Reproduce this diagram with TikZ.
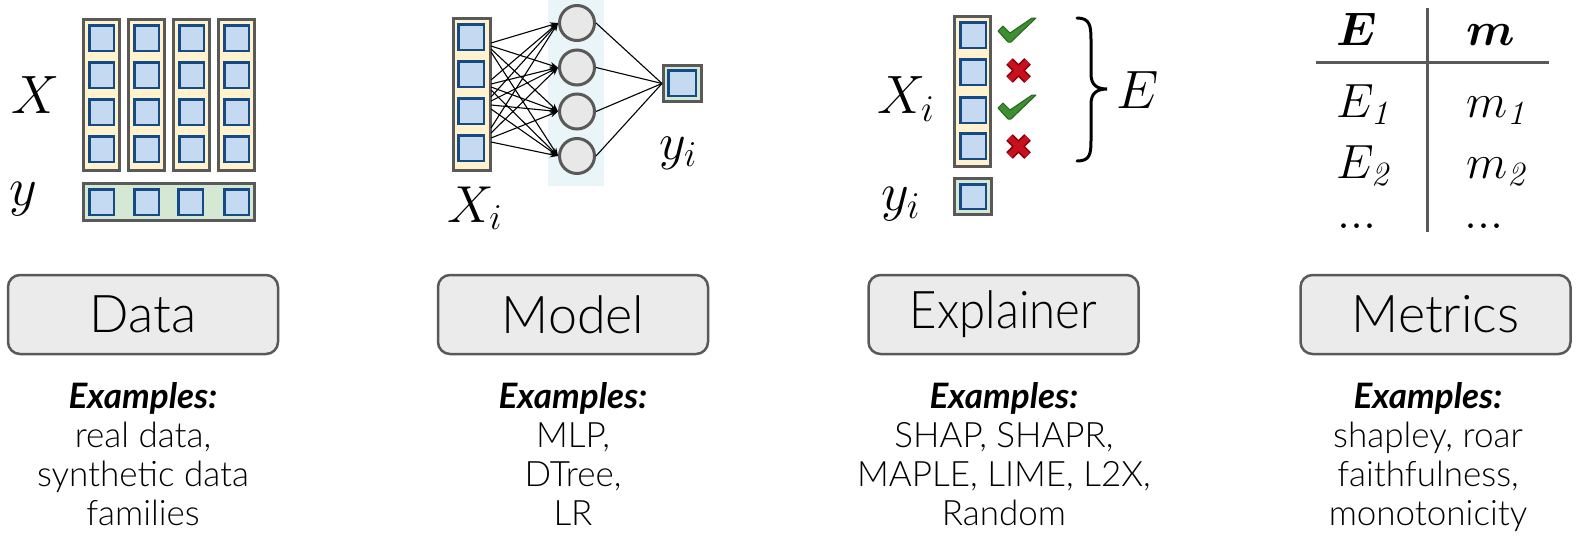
\RequirePackage{fix-cm}
\documentclass[tikz,border=0pt]{standalone}
\usepackage{graphicx}
\usepackage{amsmath}
\usepackage{fontspec}
\setmainfont{Lato}
\newfontfamily\latol{Lato Light}
\newfontfamily\lmit{Latin Modern Roman}
\usetikzlibrary{arrows.meta}
\definecolor{gr}{RGB}{89,89,89}
\definecolor{boxfill}{RGB}{235,235,235}
\definecolor{sqB}{RGB}{197,217,241}
\definecolor{sqD}{RGB}{20,75,135}
\definecolor{colY}{RGB}{255,242,204}
\definecolor{grn}{RGB}{213,232,212}
\definecolor{neur}{RGB}{232,232,232}
\definecolor{bandC}{RGB}{233,245,248}
\definecolor{checkG}{RGB}{62,142,50}
\definecolor{checkD}{RGB}{40,100,30}
\definecolor{crossR}{RGB}{200,16,30}
\definecolor{crossD}{RGB}{140,0,10}
\newcommand{\itsub}[1]{\text{\lmit\itshape\fontsize{34}{36}\selectfont #1}}
\newcommand{\exblock}[5]{%
 \node[exhead] (#1h) at (#2,408) {Examples:};
 \node[exline] (#1a) at (#2,447) {#3};
 \node[exline] (#1b) at (#2,486) {#4};
 \node[exline] (#1c) at (#2,525) {#5};}
\begin{document}
\begin{tikzpicture}[x=1pt,y=-1pt,
 colbox/.style={fill=colY,draw=gr,line width=3pt},
 sqr/.style={fill=sqB,draw=sqD,line width=2.5pt},
 ybar/.style={fill=grn,draw=gr,line width=3pt},
 neuron/.style={circle,fill=neur,draw=gr,line width=3pt,minimum size=35pt,inner sep=0pt},
 netarrow/.style={line width=1.1pt,-{Stealth[length=8pt,width=6pt]}},
 netline/.style={line width=1.1pt},
 mathlbl/.style={anchor=base west,inner sep=0pt,font=\fontsize{54}{60}\selectfont},
 tbl/.style={anchor=base west,inner sep=0pt,font=\fontsize{48}{52}\selectfont},
 tblh/.style={anchor=base west,inner sep=0pt,font=\fontsize{47}{52}\selectfont\boldmath},
 stage/.style={rounded corners=12pt,fill=boxfill,draw=gr,line width=2.5pt,minimum width=270pt,minimum height=79pt,inner sep=0pt,font=\latol\fontsize{52}{56}\selectfont},
 exhead/.style={anchor=base,inner sep=0pt,font=\bfseries\itshape\fontsize{35}{39}\selectfont},
 exline/.style={anchor=base,inner sep=0pt,font=\latol\fontsize{35}{39}\selectfont},
 tline/.style={draw=gr,line width=3pt}]
\useasboundingbox (0,0) rectangle (1581,541);

% ---------- Data ----------
\foreach \cx in {82,127,172,217} {
  \draw[colbox] (\cx+1.5,19.5) rectangle (\cx+37.5,170.5);
  \foreach \ry in {24,61,98,135}
    \draw[sqr] (\cx+7.25,\ry+1.25) rectangle (\cx+31.75,\ry+26.75);
}
\draw[ybar] (83.5,183.5) rectangle (254.5,220.5);
\foreach \sx in {88,133,177,223}
  \draw[sqr] (\sx+1.25,189.25) rectangle (\sx+25.75,214.75);
\node[mathlbl] (dX) at (11,113) {$X$};
\node[mathlbl] (dy) at (9,205) {$y$};

% ---------- Model ----------
\fill[bandC] (548,0) rectangle (604,186);
\draw[colbox] (453.5,18.5) rectangle (490.5,170.5);
\foreach \ry in {23,60,97,134}
  \draw[sqr] (458.25,\ry+1.25) rectangle (483.75,\ry+26.75);
\foreach \j/\ny in {0/23,1/67.5,2/111.5,3/156}
  \node[neuron] (n\j) at (577,\ny) {};
\foreach \i/\a/\b/\c/\d in {0/43/46/49/52,1/80/84/87/90,2/97/101/105/109,3/128/133/138/142} {
  \coordinate (s\i0) at (491,\a);
  \coordinate (s\i1) at (491,\b);
  \coordinate (s\i2) at (491,\c);
  \coordinate (s\i3) at (491,\d);
}
\foreach \i in {0,1,2,3}
  \foreach \j in {0,1,2,3}
    \draw[netarrow] (s\i\j) -- (n\j.west);
\node[ybar,minimum width=38pt,minimum height=36pt,inner sep=0pt] (out) at (682.5,83.5) {};
\draw[sqr] (668.25,70.25) rectangle (695.75,95.75);
\foreach \j in {0,1,2,3}
  \draw[netline] (n\j.east) -- (out.west);
\node[mathlbl,font=\fontsize{52}{58}\selectfont] (mX) at (447,222) {$X_i$};
\node[mathlbl,font=\fontsize{52}{58}\selectfont] (my) at (659,159) {$y_i$};

% ---------- Explainer ----------
\draw[colbox] (954.5,16.5) rectangle (990.5,166.5);
\foreach \ry in {21,58,96,132}
  \draw[sqr] (960.25,\ry+1.25) rectangle (985.75,\ry+26.75);
\draw[ybar] (954.5,178.5) rectangle (991.5,214.5);
\draw[sqr] (960.25,184.25) rectangle (985.75,208.75);
\foreach \dy in {0,77}
  \filldraw[fill=checkG,draw=checkD,line width=1pt,line join=round,yshift=-\dy pt]
    (998,31) -- (1003,26) -- (1010,33) -- (1032,18) -- (1036,18) -- (1011,42) -- (1008,42) -- cycle;
\foreach \cy in {70.5,146.5} {
  \draw[crossD,line width=9.5pt] (1009.5,\cy-9) -- (1027.5,\cy+9) (1027.5,\cy-9) -- (1009.5,\cy+9);
  \draw[crossR,line width=6pt] (1009.5,\cy-9) -- (1027.5,\cy+9) (1027.5,\cy-9) -- (1009.5,\cy+9);
}
\draw[line width=3pt,line cap=round] (1077,18) .. controls (1090,18) and (1091,26) .. (1091,40)
  -- (1091,74) .. controls (1091,85) and (1097,89) .. (1107,89)
  .. controls (1097,89) and (1091,93) .. (1091,104)
  -- (1091,140) .. controls (1091,154) and (1090,161) .. (1077,161);
\node[mathlbl] (eX) at (877,113) {$X_i$};
\node[mathlbl] (ey) at (881,210) {$y_i$};
\node[mathlbl] (eE) at (1116,108) {$E$};

% ---------- Metrics ----------
\draw[tline] (1427,8) -- (1427,232);
\draw[tline] (1316,62) -- (1549,62);
\node[tblh] (hE) at (1336,45) {$E$};
\node[tblh] (hm) at (1466,45) {$m$};
\node[tbl] (tE1) at (1336,117) {$E_{\itsub{1}}$};
\node[tbl] (tm1) at (1466,117) {$m_{\itsub{1}}$};
\node[tbl] (tE2) at (1336,178) {$E_{\itsub{2}}$};
\node[tbl] (tm2) at (1466,178) {$m_{\itsub{2}}$};
\node[tbl] (td1) at (1337,228) {$...$};
\node[tbl] (td2) at (1464,228) {$...$};

% ---------- stage boxes ----------
\node[stage] (bData) at (143,314.5) {Data};
\node[stage] (bModel) at (573,314.5) {Model};
\node[stage] (bExpl) at (1003.5,314.5) {\scalebox{0.91}[1]{Explainer}};
\node[stage] (bMetr) at (1435.5,314.5) {Metrics};

\exblock{xD}{143}{real data,}{synthetic data}{families}
\exblock{xM}{573}{MLP,}{DTree,}{LR}
\exblock{xE}{1004}{SHAP, SHAPR,}{MAPLE, LIME, L2X,}{Random}
\exblock{xT}{1428}{shapley, roar}{faithfulness,}{monotonicity}
\end{tikzpicture}
\end{document}
